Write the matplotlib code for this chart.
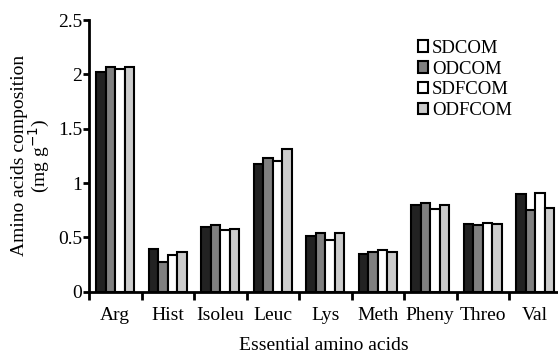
import numpy as np
import matplotlib.pyplot as plt
from matplotlib.patches import Patch

# data
acids = ['Arg', 'Hist', 'Isoleu', 'Leuc', 'Lys', 'Meth', 'Pheny', 'Threo', 'Val']
sdcom = [2.02, 0.39, 0.60, 1.18, 0.51, 0.35, 0.80, 0.62, 0.90]
odcom = [2.07, 0.27, 0.61, 1.23, 0.54, 0.37, 0.82, 0.61, 0.75]
sdfcom = [2.05, 0.34, 0.57, 1.20, 0.48, 0.38, 0.76, 0.63, 0.91]
odfcom = [2.07, 0.37, 0.58, 1.31, 0.54, 0.37, 0.80, 0.62, 0.77]
series = ['SDCOM', 'ODCOM', 'SDFCOM', 'ODFCOM']
colors = ['#222222', '#808080', '#ffffff', '#cccccc']
legend_colors = ['#ffffff', '#808080', '#ffffff', '#cccccc']

plt.rcParams['font.family'] = ['Liberation Serif', 'DejaVu Serif']

fig = plt.figure(figsize=(5.58, 3.58), dpi=100)
ax = fig.add_axes([0.1595, 0.185, 0.8405, 0.759])

x = np.arange(len(acids))
w = 0.183
for i, vals in enumerate([sdcom, odcom, sdfcom, odfcom]):
    ax.bar(x + (i - 1.5) * w, vals, w, color=colors[i], edgecolor='black', linewidth=1.5, zorder=2)

ax.set_xlim(-0.5, 8.433)
ax.set_ylim(0, 2.5)
ax.set_yticks([0, 0.5, 1, 1.5, 2, 2.5])
ax.set_yticklabels(['0', '0.5', '1', '1.5', '2', '2.5'])
ax.set_xticks(x)
ax.set_xticklabels(acids)
ax.set_xticks(np.arange(len(acids)) - 0.5, minor=True)
ax.tick_params(axis='x', which='major', length=0, pad=11, labelsize=14)
ax.tick_params(axis='x', which='minor', length=6, width=2, direction='out')
ax.tick_params(axis='y', length=4, width=2, labelsize=14, pad=1)

for s in ['top', 'right']:
    ax.spines[s].set_visible(False)
for s in ['left', 'bottom']:
    ax.spines[s].set_linewidth(2)

ax.set_xlabel('Essential amino acids', fontsize=14, labelpad=9)
ax.set_ylabel('Amino acids composition\n(mg g$^{-1}$)', fontsize=14, linespacing=0.95)
ax.yaxis.set_label_coords(-0.079, 0.50)

handles = [Patch(facecolor=c, edgecolor='black', linewidth=1.5) for c in legend_colors]
ax.legend(handles, series, loc='upper left', bbox_to_anchor=(0.685, 0.955), frameon=False,
          fontsize=13.5, handlelength=0.55, handleheight=0.55, handletextpad=0.2, labelspacing=0.2,
          borderaxespad=0)

fig.savefig('out.png', dpi=100)
